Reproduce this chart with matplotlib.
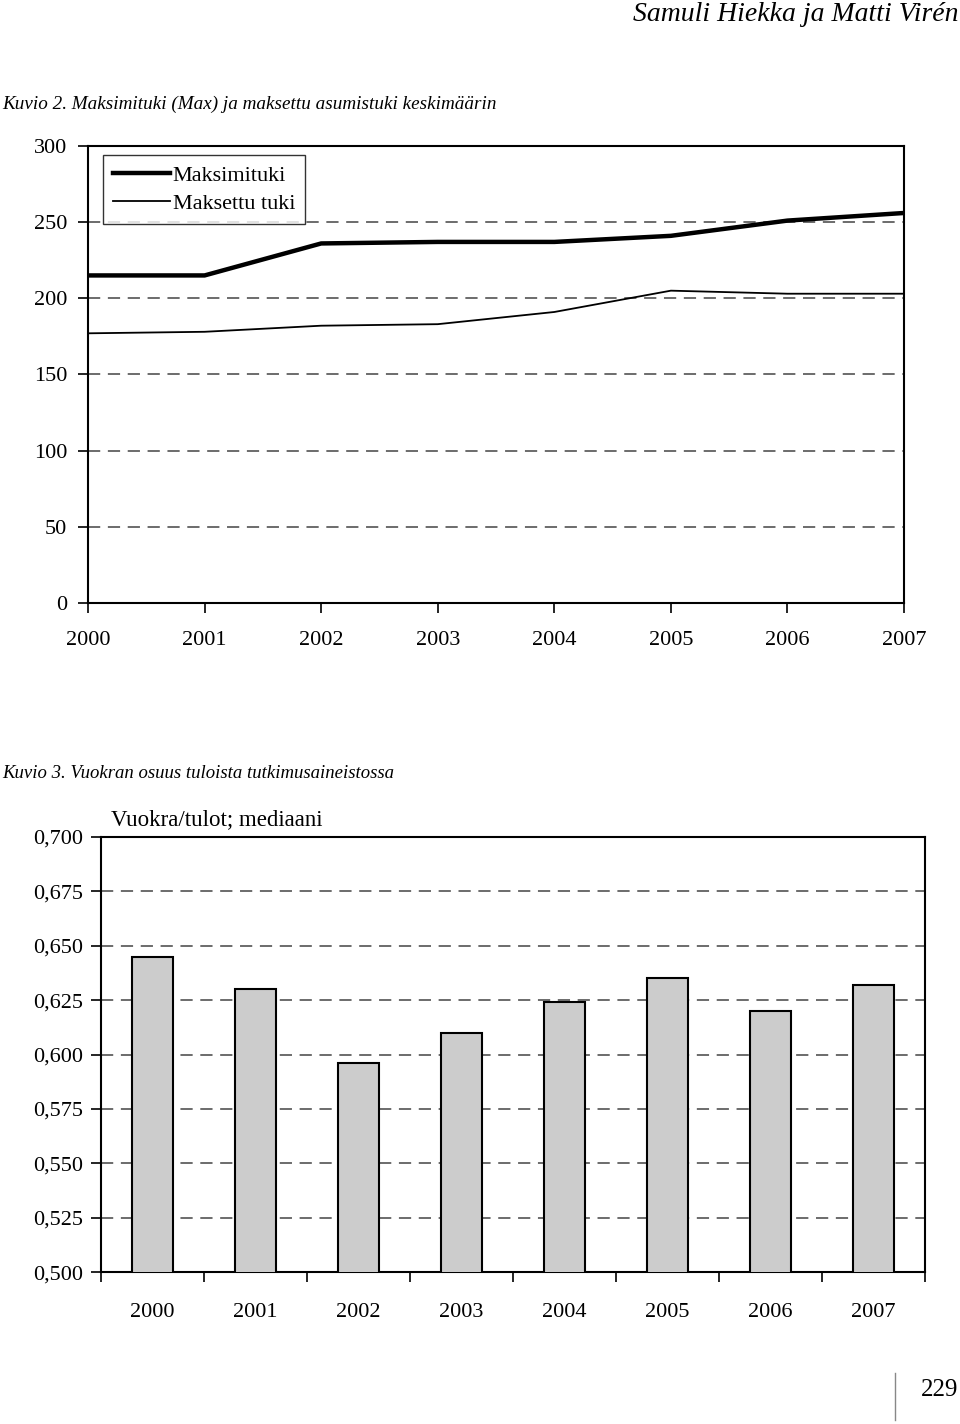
import numpy as np
import matplotlib.pyplot as plt

# Data
years = ['2000', '2001', '2002', '2003', '2004', '2005', '2006', '2007']
maksimituki = [215, 215, 236, 237, 237, 241, 251, 256]
maksettu_tuki = [177, 178, 182, 183, 191, 205, 203, 203]
vuokra_tulot = [0.645, 0.630, 0.596, 0.610, 0.624, 0.635, 0.620, 0.632]

plt.rcParams['font.family'] = ['Liberation Serif', 'DejaVu Serif']
grid_kw = dict(color='#444444', lw=1.1, linestyle=(0, (8, 5)), zorder=0)

fig = plt.figure(figsize=(9.6, 14.24), dpi=100)

# Page header, captions, page number
fig.text(0.998, 0.990, 'Samuli Hiekka ja Matti Virén', ha='right', va='center',
         fontsize=20, style='italic')
fig.text(0.002, 0.927, 'Kuvio 2. Maksimituki (Max) ja maksettu asumistuki keskimäärin',
         ha='left', va='center', fontsize=13.8, style='italic')
fig.text(0.002, 0.457, 'Kuvio 3. Vuokran osuus tuloista tutkimusaineistossa',
         ha='left', va='center', fontsize=13.5, style='italic')
fig.text(0.998, 0.024, '229', ha='right', va='center', fontsize=18)
fig.add_artist(plt.Line2D([0.932, 0.932], [0.003, 0.036], color='#888888', lw=1))

# Kuvio 2: line chart
ax1 = fig.add_axes([0.0917, 0.5766, 0.85, 0.3209])
x = np.arange(len(years))
ax1.plot(x, maksimituki, color='black', lw=3.2, label='Maksimituki', zorder=3)
ax1.plot(x, maksettu_tuki, color='black', lw=1.3, label='Maksettu tuki', zorder=3)
for v in [50, 100, 150, 200, 250]:
    ax1.axhline(v, **grid_kw)
ax1.set_xlim(0, 7)
ax1.set_ylim(0, 300)
ax1.set_xticks(x)
ax1.set_xticklabels(years)
ax1.set_yticks(range(0, 301, 50))
ax1.tick_params(axis='both', direction='out', length=7, width=1.2, labelsize=16)
ax1.tick_params(axis='x', pad=13)
ax1.tick_params(axis='y', pad=8)
for s in ax1.spines.values():
    s.set_linewidth(1.5)
leg = ax1.legend(loc='upper left', bbox_to_anchor=(0.018, 0.98), fontsize=16,
                 frameon=True, fancybox=False, edgecolor='black', handlelength=2.6,
                 handletextpad=0.1, borderpad=0.45, labelspacing=0.35, borderaxespad=0)
leg.get_frame().set_linewidth(1.0)

# Kuvio 3: bar chart
ax2 = fig.add_axes([0.1052, 0.1067, 0.8583, 0.3055])
ax2.bar(x, vuokra_tulot, width=0.4, color='#cccccc', edgecolor='black', lw=1.5, zorder=3)
for v in [0.525, 0.55, 0.575, 0.6, 0.625, 0.65, 0.675]:
    ax2.axhline(v, **grid_kw)
ax2.set_xlim(-0.5, 7.5)
ax2.set_ylim(0.5, 0.7)
yt = np.arange(0.5, 0.7001, 0.025)
ax2.set_yticks(yt)
ax2.set_yticklabels([f'{v:.3f}'.replace('.', ',') for v in yt])
ax2.set_xticks(np.arange(-0.5, 7.6, 1))
ax2.set_xticklabels([])
ax2.set_xticks(x, minor=True)
ax2.set_xticklabels(years, minor=True)
ax2.tick_params(axis='x', which='major', direction='out', length=7, width=1.2)
ax2.tick_params(axis='x', which='minor', length=0, pad=22, labelsize=16)
ax2.tick_params(axis='y', direction='out', length=7, width=1.2, labelsize=16, pad=6)
for s in ax2.spines.values():
    s.set_linewidth(1.5)
ax2.text(0.012, 1.015, 'Vuokra/tulot; mediaani', transform=ax2.transAxes,
         ha='left', va='bottom', fontsize=16.5)

fig.savefig('out.png', dpi=100)
